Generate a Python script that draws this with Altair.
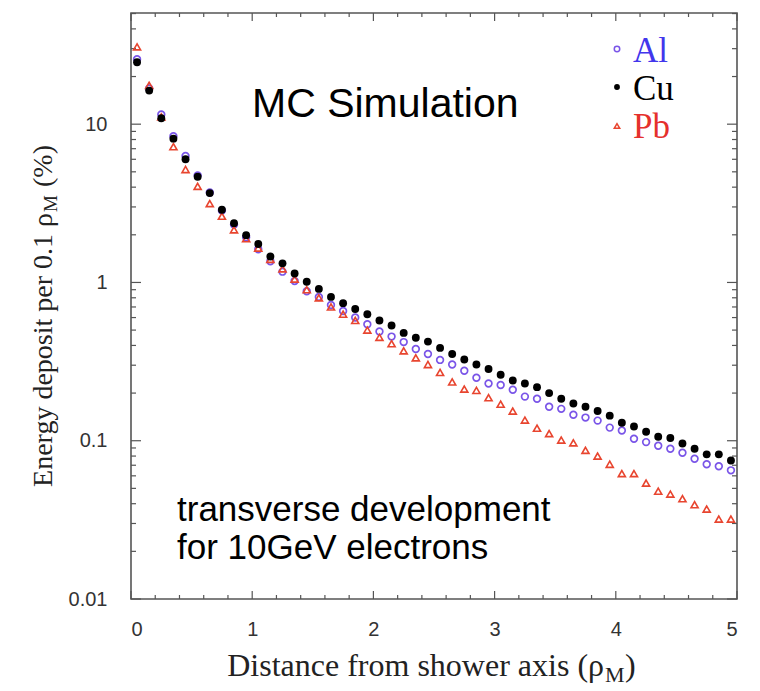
import altair as alt
import pandas as pd

# Radial bin centres (units of Moliere radius), 0.1 rho_M wide bins
distance = [0.05, 0.15, 0.25, 0.35, 0.45, 0.55, 0.65, 0.75, 0.85, 0.95,
            1.05, 1.15, 1.25, 1.35, 1.45, 1.55, 1.65, 1.75, 1.85, 1.95,
            2.05, 2.15, 2.25, 2.35, 2.45, 2.55, 2.65, 2.75, 2.85, 2.95,
            3.05, 3.15, 3.25, 3.35, 3.45, 3.55, 3.65, 3.75, 3.85, 3.95,
            4.05, 4.15, 4.25, 4.35, 4.45, 4.55, 4.65, 4.75, 4.85, 4.95]

# Energy deposit per 0.1 rho_M (%)
al = [25.7, 16.8, 11.5, 8.4, 6.3, 4.75, 3.7, 2.85, 2.32, 1.93,
      1.62, 1.36, 1.17, 1.02, 0.88, 0.81, 0.72, 0.66, 0.60, 0.545,
      0.49, 0.455, 0.42, 0.38, 0.353, 0.324, 0.303, 0.277, 0.25, 0.23,
      0.225, 0.21, 0.19, 0.184, 0.164, 0.159, 0.146, 0.14, 0.134, 0.121,
      0.116, 0.103, 0.098, 0.093, 0.089, 0.084, 0.077, 0.071, 0.069, 0.065]
cu = [24.6, 16.3, 10.9, 8.1, 6.0, 4.65, 3.67, 2.88, 2.37, 1.99,
      1.75, 1.46, 1.32, 1.14, 1.01, 0.91, 0.81, 0.74, 0.68, 0.63,
      0.575, 0.535, 0.48, 0.447, 0.423, 0.386, 0.353, 0.326, 0.303, 0.284,
      0.261, 0.24, 0.23, 0.218, 0.2, 0.184, 0.172, 0.164, 0.154, 0.144,
      0.13, 0.123, 0.114, 0.106, 0.104, 0.096, 0.089, 0.082, 0.082, 0.075]
pb = [30.8, 17.6, 11.1, 7.2, 5.17, 4.05, 3.15, 2.62, 2.15, 1.89,
      1.65, 1.40, 1.22, 1.05, 0.90, 0.80, 0.70, 0.63, 0.575, 0.50,
      0.45, 0.41, 0.37, 0.334, 0.303, 0.27, 0.235, 0.212, 0.208, 0.187,
      0.17, 0.154, 0.135, 0.12, 0.111, 0.101, 0.097, 0.087, 0.08, 0.071,
      0.062, 0.062, 0.054, 0.048, 0.046, 0.043, 0.0394, 0.037, 0.032, 0.032]

x_labels = [0, 1, 2, 3, 4, 5]
y_labels = [0.01, 0.1, 1, 10]

W, H = 606, 586
X_DOMAIN = [0, 5]
Y_DOMAIN = [0.01, 50.4]

AL_COLOR = "#7a55e8"
AL_TEXT = "#4236ec"
PB_COLOR = "#e8452f"
PB_TEXT = "#e5302c"
AXIS_COLOR = "#555555"
SANS = "Liberation Sans"
SERIF = "Liberation Serif"

xscale = alt.Scale(domain=X_DOMAIN, nice=False, zero=False)
yscale = alt.Scale(type="log", domain=Y_DOMAIN, nice=False)

x_axis = alt.Axis(values=x_labels, format="d", ticks=False, tickSize=0, domain=False,
                  grid=False, title=None, labelFont=SANS, labelFontSize=20,
                  labelColor="#333333", labelPadding=20)
y_axis = alt.Axis(values=y_labels, format=".2~f", ticks=False, tickSize=0, domain=False,
                  grid=False, title=None, labelFont=SANS, labelFontSize=20,
                  labelColor="#333333", labelPadding=24)

X = alt.X("x:Q", scale=xscale, axis=x_axis)
Y = alt.Y("v:Q", scale=yscale, axis=y_axis)


def series(values):
    return pd.DataFrame({"x": distance, "v": values})


al_layer = alt.Chart(series(al)).mark_point(
    shape="circle", filled=False, stroke=AL_COLOR, strokeWidth=1.7, size=45, opacity=1
).encode(x=X, y=Y)

pb_layer = alt.Chart(series(pb)).mark_point(
    shape="triangle-up", filled=False, stroke=PB_COLOR, strokeWidth=1.6, size=50, opacity=1
).encode(x=X, y=Y)

cu_layer = alt.Chart(series(cu)).mark_circle(
    color="black", size=62, opacity=1
).encode(x=X, y=Y)

# Inward-pointing ticks on all four sides of the frame
y_major = [0.01, 0.1, 1, 10]
y_minor = [m * 10.0 ** e for e in range(-2, 2) for m in range(2, 10) if m * 10.0 ** e <= 50]
x_major = [0, 1, 2, 3, 4, 5]
x_minor = [i / 5 for i in range(26) if i % 5]


def ytick(vals, length, right=False):
    x0 = W if right else 0
    x1 = W - length if right else length
    return alt.Chart(pd.DataFrame({"v": vals})).mark_rule(
        color=AXIS_COLOR, strokeWidth=1.2
    ).encode(y=Y, x=alt.value(x0), x2=alt.value(x1))


def xtick(vals, length, top=False):
    y0 = 0 if top else H
    y1 = length if top else H - length
    return alt.Chart(pd.DataFrame({"x": vals})).mark_rule(
        color=AXIS_COLOR, strokeWidth=1.2
    ).encode(x=X, y=alt.value(y0), y2=alt.value(y1))


ticks = [ytick(y_major, 10), ytick(y_minor, 5), ytick(y_major, 10, True), ytick(y_minor, 5, True),
         xtick(x_major, 8), xtick(x_minor, 4), xtick(x_major, 8, True), xtick(x_minor, 4, True)]


def label(text, x, y, size, font, color="black", align="left", angle=0, baseline="alphabetic"):
    return alt.Chart(pd.DataFrame({"t": [text]})).mark_text(
        align=align, baseline=baseline, fontSize=size, font=font, color=color, angle=angle
    ).encode(x=alt.value(x), y=alt.value(y), text="t:N")


def legend_symbol(shape, x, y, filled, color, size):
    return alt.Chart(pd.DataFrame({"t": [0]})).mark_point(
        shape=shape, filled=filled, color=color, size=size, strokeWidth=1.5, opacity=1
    ).encode(x=alt.value(x), y=alt.value(y))


texts = [
    label("MC Simulation", 121, 104, 41, SANS),
    label("transverse development", 46, 508, 35, SANS),
    label("for 10GeV electrons", 46, 546, 35, SANS),
    # legend
    legend_symbol("circle", 486, 36, False, AL_COLOR, 30),
    legend_symbol("circle", 486, 74, True, "black", 34),
    legend_symbol("triangle-up", 486, 113, False, PB_COLOR, 30),
    label("Al", 502, 49, 35, SERIF, AL_TEXT),
    label("Cu", 502, 87, 35, SERIF, "black"),
    label("Pb", 502, 125, 35, SERIF, PB_TEXT),
    # x-axis title with subscript
    label("Distance from shower axis (\u03c1", 473, 663, 32, SERIF, "#222222", align="right"),
    label("M", 474, 669, 22, SERIF, "#222222"),
    label(")", 494, 663, 32, SERIF, "#222222"),
    # y-axis title with subscript (rotated, reads bottom to top)
    label("Energy deposit per 0.1 \u03c1", -79, 200, 28, SERIF, "#222222", align="right", angle=270),
    label("M", -74, 199, 19, SERIF, "#222222", align="left", angle=270),
    label("(%)", -79, 174, 28, SERIF, "#222222", align="left", angle=270),
]

chart = alt.layer(al_layer, *ticks, pb_layer, cu_layer, *texts).properties(
    width=W, height=H, autosize="none",
    padding={"left": 131, "top": 13, "right": 23, "bottom": 92},
    background="white",
).configure_view(stroke=AXIS_COLOR, strokeWidth=1.6)

chart.save("out.html", embed_options={"renderer": "svg", "actions": False})
